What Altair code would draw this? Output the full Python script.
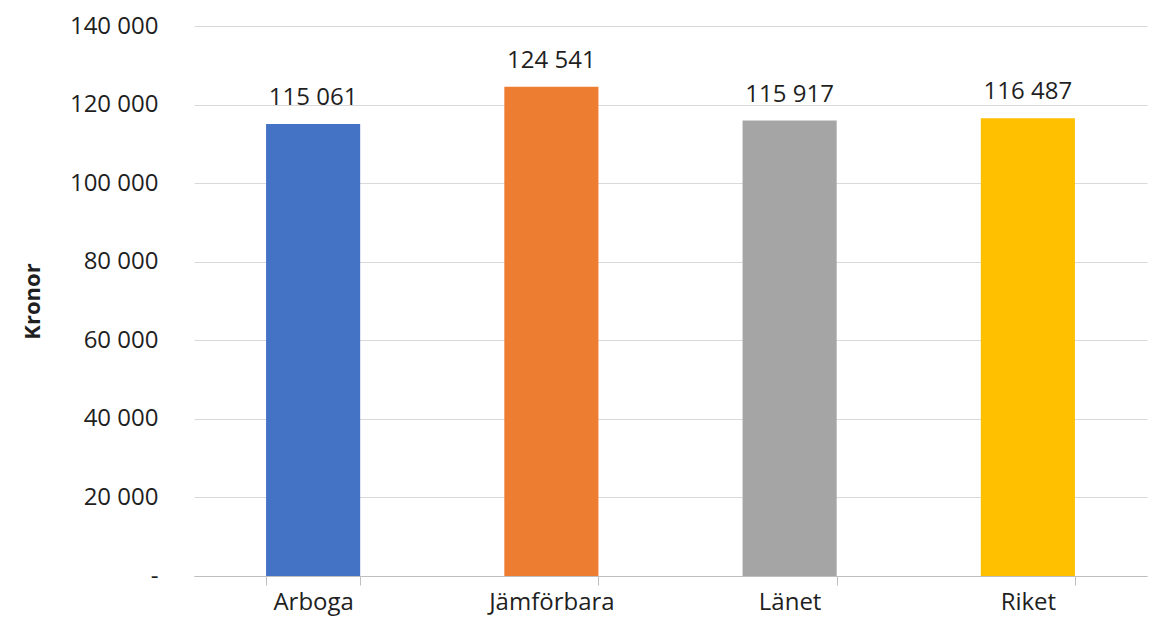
import altair as alt
import pandas as pd

categories = ["Arboga", "Jämförbara", "Länet", "Riket"]
values = [115061, 124541, 115917, 116487]
colors = ["#4472C4", "#ED7D31", "#A5A5A5", "#FFC000"]
y_ticks = [0, 20000, 40000, 60000, 80000, 100000, 120000, 140000]

df = pd.DataFrame({"cat": categories, "value": values})

FONT = "Open Sans"
fmt = "join(split(format(datum.value, ','), ','), ' ')"

x = alt.X(
    "cat:N",
    sort=categories,
    scale=alt.Scale(paddingInner=0.605, paddingOuter=0.3025),
    axis=alt.Axis(
        title=None,
        labelAngle=0,
        labelFont=FONT,
        labelFontSize=24,
        labelColor="#1f1f1f",
        labelPadding=5,
        domainColor="#BFBFBF",
        tickColor="#BFBFBF",
        tickBand="extent",
        tickSize=9,
        grid=False,
    ),
)

y = alt.Y(
    "value:Q",
    scale=alt.Scale(domain=[0, 140000], nice=False),
    axis=alt.Axis(
        values=y_ticks,
        title="Kronor",
        titleFont=FONT,
        titleFontSize=22,
        titleFontWeight="bold",
        titleColor="#1f1f1f",
        titleX=-150,
        titleY=275,
        labelFont=FONT,
        labelFontSize=24,
        labelColor="#1f1f1f",
        labelPadding=36,
        labelExpr="datum.value == 0 ? '-' : " + fmt,
        domain=False,
        ticks=False,
        grid=True,
        gridColor="#D9D9D9",
        gridWidth=1,
    ),
)

base = alt.Chart(df)

bars = base.mark_bar().encode(
    x=x,
    y=y,
    color=alt.Color("cat:N", scale=alt.Scale(domain=categories, range=colors), legend=None),
)

labels = base.transform_calculate(
    label=fmt
).mark_text(
    font=FONT, fontSize=24, color="#1f1f1f", baseline="bottom", dy=-14
).encode(
    x=alt.X("cat:N", sort=categories),
    y=alt.Y("value:Q"),
    text="label:N",
)

chart = (
    alt.layer(bars, labels)
    .properties(
        width=953,
        height=550,
        autosize=alt.AutoSizeParams(type="none"),
        padding={"left": 186, "top": 18, "right": 5, "bottom": 43},
    )
    .configure(background="white", view=alt.ViewConfig(stroke=None))
)

chart.save("out.html", embed_options={"renderer": "svg", "actions": False})
